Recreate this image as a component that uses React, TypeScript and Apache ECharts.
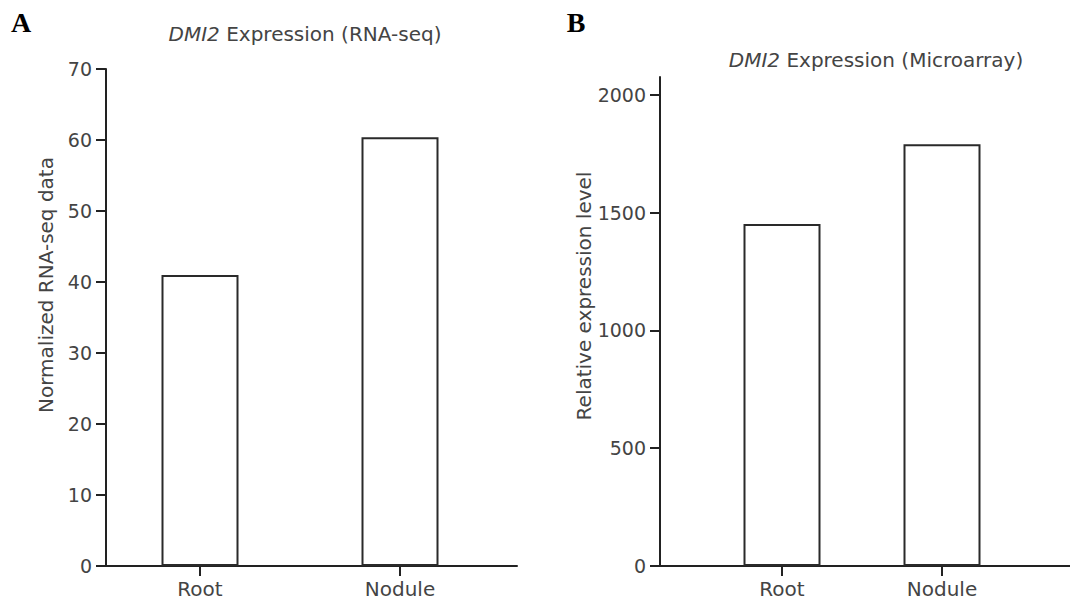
import React, { useEffect, useRef } from 'react';
import * as echarts from 'echarts';

const categories = ['Root', 'Nodule'];
const categoryPositions = [1, 2];
const rnaSeqValues = [41.0, 60.4];
const microarrayValues = [1452, 1791];
const microarrayTicks = [0, 500, 1000, 1500, 2000];

export default function App() {
  const ref = useRef<HTMLDivElement>(null);
  useEffect(() => {
    const chart = echarts.init(ref.current!, null, { renderer: 'svg' });
    const font = 'DejaVu Sans';
    const axisColor = '#222';
    const textColor = '#444';
    const barStyle = { color: '#fff', borderColor: '#2a2a2a', borderWidth: 2 };

    const makeX = (gridIndex: number, min: number, max: number) => ({
      type: 'value',
      gridIndex,
      min,
      max,
      splitLine: { show: false },
      axisLine: { show: true, onZero: false, lineStyle: { color: axisColor, width: 2 } },
      axisTick: { show: true, length: 10, customValues: categoryPositions, lineStyle: { color: axisColor, width: 2 } },
      axisLabel: {
        customValues: categoryPositions,
        formatter: (v: number) => categories[Math.round(v) - 1] ?? '',
        fontSize: 20,
        fontFamily: font,
        color: textColor,
        margin: 13,
      },
    });

    const yCommon = {
      type: 'value',
      splitLine: { show: false },
      axisLine: { show: true, onZero: false, lineStyle: { color: axisColor, width: 2 } },
      axisTick: { show: true, length: 10, lineStyle: { color: axisColor, width: 2 } },
    };
    const plain = (v: number) => String(v);

    chart.setOption({
      animation: false,
      backgroundColor: '#fff',
      grid: [
        { left: 106, top: 69, width: 411, height: 497 },
        { left: 660, top: 77, width: 410, height: 489 },
      ],
      xAxis: [makeX(0, 0.53, 2.585), makeX(1, 0.2375, 2.8)],
      yAxis: [
        {
          ...yCommon,
          gridIndex: 0,
          min: 0,
          max: 70,
          interval: 10,
          axisLabel: { formatter: plain, fontSize: 19, fontFamily: font, color: textColor, margin: 14 },
        },
        {
          ...yCommon,
          gridIndex: 1,
          min: 0,
          max: 2076,
          axisTick: { ...yCommon.axisTick, customValues: microarrayTicks },
          axisLabel: { customValues: microarrayTicks, formatter: plain, fontSize: 19, fontFamily: font, color: textColor, margin: 14 },
        },
      ],
      series: [
        {
          type: 'bar',
          xAxisIndex: 0,
          yAxisIndex: 0,
          barWidth: 77,
          itemStyle: barStyle,
          data: categoryPositions.map((x, i) => [x, rnaSeqValues[i]]),
        },
        {
          type: 'bar',
          xAxisIndex: 1,
          yAxisIndex: 1,
          barWidth: 77,
          itemStyle: barStyle,
          data: categoryPositions.map((x, i) => [x, microarrayValues[i]]),
        },
      ],
      graphic: [
        { type: 'text', x: 21, y: 22, style: { text: 'A', font: 'bold 28px "Liberation Serif"', fill: '#000', align: 'center', verticalAlign: 'middle' } },
        { type: 'text', x: 576, y: 22, style: { text: 'B', font: 'bold 28px "Liberation Serif"', fill: '#000', align: 'center', verticalAlign: 'middle' } },
        {
          type: 'text', x: 305, y: 34,
          style: {
            text: '{i|DMI2} Expression (RNA-seq)',
            rich: { i: { fontStyle: 'italic', fontSize: 20, fontFamily: font, fill: textColor } },
            fontSize: 20, fontFamily: font, fill: textColor, align: 'center', verticalAlign: 'middle',
          },
        },
        {
          type: 'text', x: 876, y: 60,
          style: {
            text: '{i|DMI2} Expression (Microarray)',
            rich: { i: { fontStyle: 'italic', fontSize: 20, fontFamily: font, fill: textColor } },
            fontSize: 20, fontFamily: font, fill: textColor, align: 'center', verticalAlign: 'middle',
          },
        },
        {
          type: 'text', x: 46, y: 285, rotation: Math.PI / 2,
          style: { text: 'Normalized RNA-seq data', fontSize: 20, fontFamily: font, fill: textColor, align: 'center', verticalAlign: 'middle' },
        },
        {
          type: 'text', x: 584, y: 296, rotation: Math.PI / 2,
          style: { text: 'Relative expression level', fontSize: 20, fontFamily: font, fill: textColor, align: 'center', verticalAlign: 'middle' },
        },
      ],
    });
    return () => chart.dispose();
  }, []);
  return <div ref={ref} style={{ position: 'fixed', left: 0, top: 0, width: 1070, height: 605, background: '#fff' }} />;
}
